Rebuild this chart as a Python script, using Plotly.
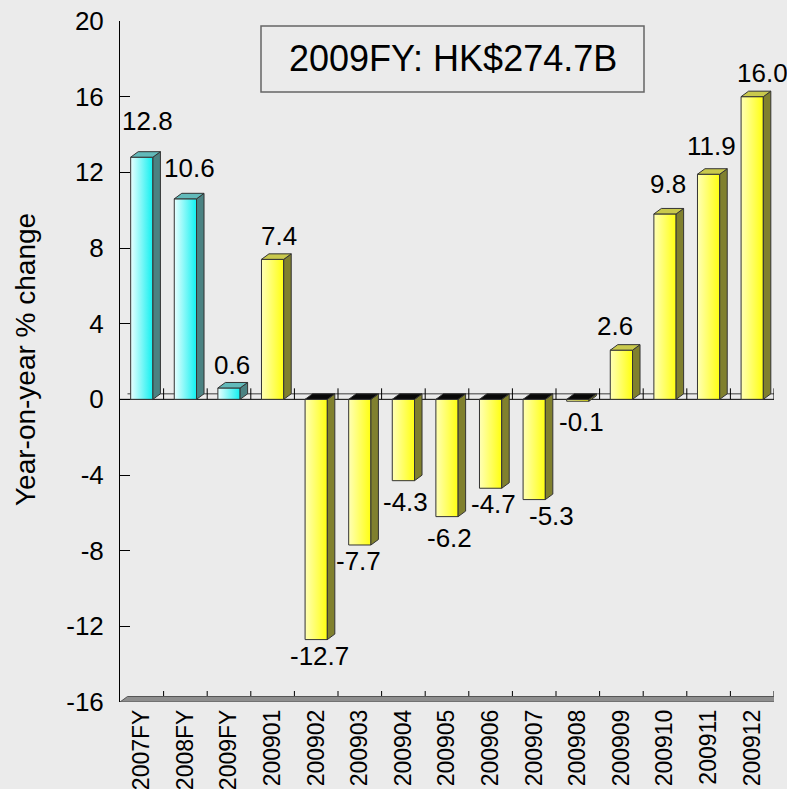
import plotly.graph_objects as go

# ---- data -------------------------------------------------------------
categories = ["2007FY", "2008FY", "2009FY", "200901", "200902", "200903",
              "200904", "200905", "200906", "200907", "200908", "200909",
              "200910", "200911", "200912"]
yoy_change = [12.8, 10.6, 0.6, 7.4, -12.7, -7.7, -4.3, -6.2, -4.7, -5.3,
              -0.1, 2.6, 9.8, 11.9, 16.0]
period_kind = ["FY", "FY", "FY"] + ["M"] * 12
y_ticks = [-16, -12, -8, -4, 0, 4, 8, 12, 16, 20]
y_tick_text = ["-16", "-12", "-8", "-4", "0", "4", "8", "12", "16", "20"]
headline = "2009FY: HK$274.7B"
y_title = "Year-on-year % change"

# ---- label placement nudges (pixels) ------------------------------------
label_dx = [6, 4, 3, 6, 3, -1, 2, 2, 3, 17, 4, -6, 3, 3, 10]
label_gap = [36, 31, 23, 23, 16, 16, 21, 21, 16, 16, 21, 24, 30, 28, 24]

# ---- geometry -----------------------------------------------------------
W, H = 787, 789
L, R, T, B = 120, 13, 21, 87
plot_w, plot_h = W - L - R, H - T - B
y_min, y_max = -16, 20
n = len(categories)
px_per_cat = plot_w / n
px_per_unit = plot_h / (y_max - y_min)

bar_w = 0.51
dx = 7.5 / px_per_cat      # 3-D depth, horizontal
dy = 5.5 / px_per_unit     # 3-D depth, vertical

FONT = "Liberation Sans, Arial, sans-serif"
BG = "#EBEBEB"
EDGE = "#333333"

palette = {
    "FY": dict(front=[[0, "#E8FFFF"], [1, "#10F0F0"]], side="#4B8282", top="#62BABA"),
    "M": dict(front=[[0, "#FFFFB5"], [1, "#FFFF10"]], side="#80802E", top="#C9C94C"),
}

fig = go.Figure()

side_xy = {"FY": ([], []), "M": ([], [])}
top_xy = {"FY": ([], []), "M": ([], []), "neg": ([], [])}

for i, (v, kind) in enumerate(zip(yoy_change, period_kind)):
    xl, xr = i - bar_w / 2, i + bar_w / 2
    # front face with horizontal gradient
    fig.add_trace(go.Scatter(
        x=[xl, xr, xr, xl, xl], y=[0, 0, v, v, 0],
        mode="lines", fill="toself",
        fillgradient=dict(type="horizontal", colorscale=palette[kind]["front"]),
        line=dict(color=EDGE, width=1), hoverinfo="skip", showlegend=False))
    # right side face
    sx, sy = side_xy[kind]
    sx += [xr, xr + dx, xr + dx, xr, xr, None]
    sy += [0, dy, v + dy, v, 0, None]
    # top face (at the value for rising bars, at zero for falling ones)
    top_y = v if v >= 0 else 0
    key = kind if v >= 0 else "neg"
    tx, ty = top_xy[key]
    tx += [xl, xr, xr + dx, xl + dx, xl, None]
    ty += [top_y, top_y, top_y + dy, top_y + dy, top_y, None]

for kind, (sx, sy) in side_xy.items():
    fig.add_trace(go.Scatter(x=sx, y=sy, mode="lines", fill="toself",
                             fillcolor=palette[kind]["side"],
                             line=dict(color=EDGE, width=1),
                             hoverinfo="skip", showlegend=False))
for key, (tx, ty) in top_xy.items():
    color = "#080808" if key == "neg" else palette[key]["top"]
    fig.add_trace(go.Scatter(x=tx, y=ty, mode="lines", fill="toself",
                             fillcolor=color, line=dict(color=EDGE, width=1),
                             hoverinfo="skip", showlegend=False))

# ---- value labels -------------------------------------------------------
for i, v in enumerate(yoy_change):
    fig.add_annotation(
        x=i, y=v, xref="x", yref="y", text=f"{v:.1f}", showarrow=False,
        xanchor="center", yanchor="middle",
        xshift=label_dx[i], yshift=label_gap[i] if v >= 0 else -label_gap[i],
        font=dict(family=FONT, size=26, color="black"))

# ---- zero plane and floor ----------------------------------------------
x_lo, x_hi = -0.5, n - 0.5
shapes = []
shapes.append(dict(type="line", xref="x", yref="y", x0=x_lo + dx, x1=x_hi + dx,
                   y0=dy, y1=dy, line=dict(color="#777777", width=1.5), layer="below"))
shapes.append(dict(type="line", xref="x", yref="y", x0=x_lo, x1=x_hi,
                   y0=0, y1=0, line=dict(color="black", width=1), layer="below"))
for k in range(n):
    xb = k + 0.5
    for base in (0, y_min):
        shapes.append(dict(type="line", xref="x", yref="y", x0=xb, x1=xb,
                           y0=base, y1=base + 2 * dy,
                           line=dict(color="black", width=1), layer="below"))
floor_path = (f"M {x_lo},{y_min} L {x_hi},{y_min} L {x_hi + dx},{y_min + dy} "
              f"L {x_lo + dx},{y_min + dy} Z")
shapes.append(dict(type="path", xref="x", yref="y", path=floor_path,
                   fillcolor="#8E8E8E", line=dict(color="#555555", width=1),
                   layer="above"))

# headline box
bx0, bx1, by0, by1 = 261, 644, 26, 92
shapes.append(dict(type="rect", xref="paper", yref="paper",
                   x0=(bx0 - L) / plot_w, x1=(bx1 - L) / plot_w,
                   y0=(H - B - by1) / plot_h, y1=(H - B - by0) / plot_h,
                   line=dict(color="#666666", width=1.5)))
fig.add_annotation(x=((bx0 + bx1) / 2 - L) / plot_w, y=(H - B - (by0 + by1) / 2) / plot_h,
                   xref="paper", yref="paper", text=headline, showarrow=False,
                   xanchor="center", yanchor="middle",
                   font=dict(family=FONT, size=36, color="black"))

# y-axis title
fig.add_annotation(x=(25 - L) / plot_w, y=(H - B - 360) / plot_h, xref="paper", yref="paper",
                   text=y_title, textangle=-90, showarrow=False,
                   xanchor="center", yanchor="middle",
                   font=dict(family=FONT, size=28, color="black"))

fig.update_layout(
    width=W, height=H, autosize=False,
    margin=dict(l=L, r=R, t=T, b=B, pad=0, autoexpand=False),
    paper_bgcolor=BG, plot_bgcolor=BG,
    shapes=shapes, showlegend=False,
    font=dict(family=FONT, color="black"),
    xaxis=dict(range=[x_lo, x_hi], tickvals=list(range(n)), ticktext=categories,
               tickangle=-90, ticks="", showline=False, showgrid=False,
               zeroline=False, tickfont=dict(size=23), ticklabelstandoff=2,
               automargin=False, fixedrange=True),
    yaxis=dict(range=[y_min, y_max], tickvals=y_ticks, ticktext=y_tick_text,
               ticks="inside", ticklen=10,
               tickcolor="black", showline=True, linecolor="black", linewidth=1,
               showgrid=False, zeroline=False, tickfont=dict(size=26),
               ticklabelstandoff=10, automargin=False, fixedrange=True),
)

fig.write_html("out.html", include_plotlyjs=True, config={"displayModeBar": False})
